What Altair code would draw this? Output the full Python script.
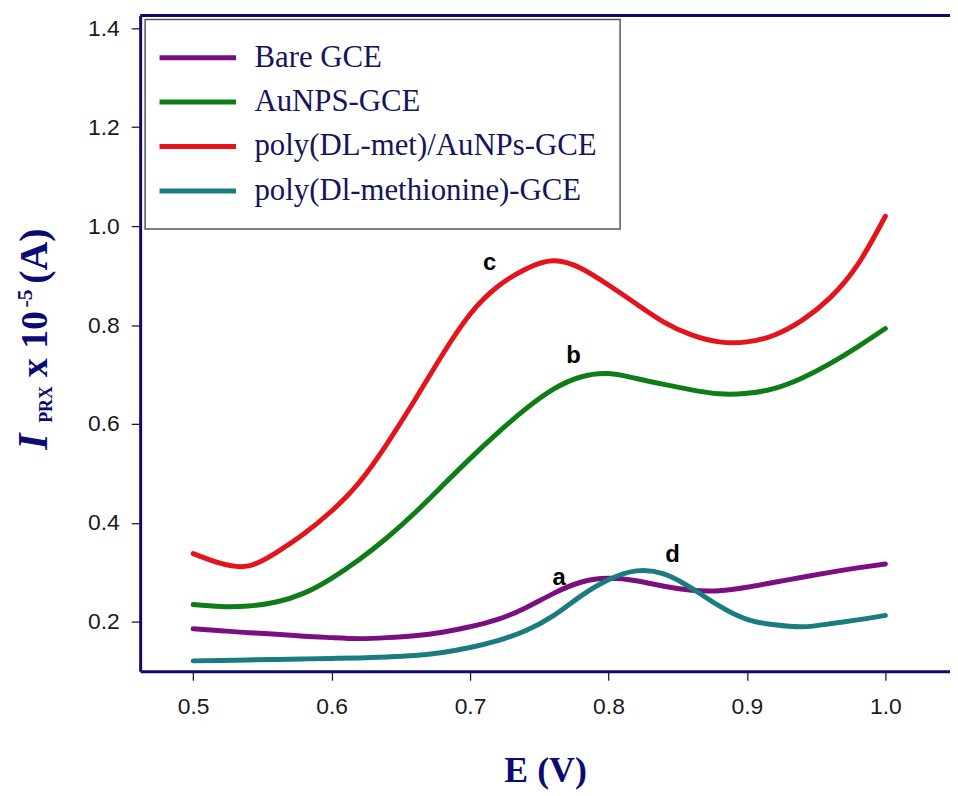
import altair as alt
import pandas as pd

# ---- data ----
E = [0.50, 0.52, 0.54, 0.56, 0.58, 0.60, 0.62, 0.64, 0.66, 0.68, 0.70, 0.72, 0.74,
     0.76, 0.78, 0.80, 0.82, 0.84, 0.86, 0.88, 0.90, 0.92, 0.94, 0.96, 0.98, 1.00]
bare = [0.186, 0.182, 0.178, 0.175, 0.171, 0.168, 0.166, 0.168, 0.172, 0.179, 0.190, 0.205, 0.228,
        0.257, 0.280, 0.288, 0.283, 0.272, 0.264, 0.263, 0.270, 0.280, 0.290, 0.300, 0.309, 0.317]
aunps = [0.235, 0.231, 0.232, 0.240, 0.258, 0.288, 0.326, 0.370, 0.420, 0.475, 0.530, 0.582, 0.630,
         0.670, 0.695, 0.702, 0.692, 0.680, 0.669, 0.661, 0.662, 0.672, 0.693, 0.722, 0.756, 0.793]
poly_au = [0.338, 0.318, 0.313, 0.340, 0.378, 0.424, 0.482, 0.560, 0.648, 0.740, 0.822, 0.878, 0.913,
           0.930, 0.915, 0.881, 0.843, 0.806, 0.780, 0.766, 0.766, 0.780, 0.810, 0.855, 0.922, 1.020]
poly_met = [0.121, 0.122, 0.123, 0.124, 0.125, 0.126, 0.127, 0.129, 0.132, 0.138, 0.148, 0.162, 0.182,
            0.212, 0.252, 0.285, 0.303, 0.297, 0.268, 0.232, 0.205, 0.194, 0.190, 0.196, 0.204, 0.213]

names = ["Bare GCE", "AuNPS-GCE", "poly(DL-met)/AuNPs-GCE", "poly(Dl-methionine)-GCE"]
colors = ["#7a0f7f", "#0f7d17", "#e3141b", "#1b7c80"]

letters = ["a", "b", "c", "d"]
letter_E = [0.7644, 0.7747, 0.7141, 0.8462]
letter_I = [0.288, 0.738, 0.9245, 0.334]

x_ticks = [0.5, 0.6, 0.7, 0.8, 0.9, 1.0]
y_ticks = [0.2, 0.4, 0.6, 0.8, 1.0, 1.2, 1.4]

rows = []
for name, vals in zip(names, [bare, aunps, poly_au, poly_met]):
    for e, v in zip(E, vals):
        rows.append({"E": e, "I": v, "series": name})
df = pd.DataFrame(rows)
lab = pd.DataFrame({"t": letters, "E": letter_E, "I": letter_I})

W, H = 815, 660
NAVY = "#0b0b73"
SERIF = "Liberation Serif"
SANS = "Liberation Sans"

xscale = alt.Scale(domain=[0.4617, 1.0467], nice=False, zero=False)
yscale = alt.Scale(domain=[0.1, 1.426], nice=False, zero=False)

lines = alt.Chart(df).mark_line(strokeWidth=5, strokeCap="round", interpolate="natural").encode(
    x=alt.X("E:Q", scale=xscale,
            axis=alt.Axis(values=x_ticks, format=".1f", title="E (V)", titleFont=SERIF,
                          titleFontWeight="bold", titleFontSize=36, titleColor=NAVY,
                          titlePadding=36, labelPadding=15)),
    y=alt.Y("I:Q", scale=yscale,
            axis=alt.Axis(values=y_ticks, format=".1f", title=None, labelPadding=12)),
    color=alt.Color("series:N", scale=alt.Scale(domain=names, range=colors),
                    legend=alt.Legend(title=None, orient="none", legendX=5, legendY=4,
                                      direction="vertical", symbolType="M-2.4,0H5.3",
                                      symbolSize=400, symbolStrokeWidth=5,
                                      labelOffset=56, labelFont=SERIF, labelFontSize=31,
                                      labelColor="#15155a", labelLimit=1000,
                                      padding=23, rowPadding=12.7,
                                      fillColor="white", strokeColor="#555555")),
)

letter_marks = alt.Chart(lab).mark_text(font=SANS, fontWeight="bold", fontSize=24,
                                        color="black", baseline="middle").encode(
    x=alt.X("E:Q", scale=xscale), y=alt.Y("I:Q", scale=yscale), text="t:N")

top_rule = alt.Chart(pd.DataFrame({"k": [0]})).mark_rule(color=NAVY, strokeWidth=3).encode(
    x=alt.value(0), x2=alt.value(W + 10), y=alt.value(0))


def piece(txt, x, y, size, style="normal"):
    return alt.Chart(pd.DataFrame({"t": [txt]})).mark_text(
        font=SERIF, fontWeight="bold", fontStyle=style, fontSize=size, color=NAVY,
        angle=270, align="left", baseline="alphabetic").encode(
        text="t:N", x=alt.value(x), y=alt.value(y))


ytitle = [
    piece("I", -94, 437, 42, "italic"),
    piece("PRX", -89, 410, 18),
    piece("x 10", -94, 364, 38),
    piece("-5", -109, 294, 22),
    piece("(A)", -94, 270, 40),
]

chart = alt.layer(lines, letter_marks, top_rule, *ytitle).properties(
    width=W, height=H,
    autosize=alt.AutoSizeParams(type="none"),
    padding={"left": 133, "top": 5, "right": 0, "bottom": 120},
).configure_view(stroke=None).configure_axis(
    grid=False, domainColor=NAVY, domainWidth=3, tickColor="#222222", tickWidth=1.3,
    tickSize=9, labelFont=SANS, labelFontSize=23, labelColor="#1a1a1a"
).configure_legend(strokeWidth=1.5)

chart.save("out.html", embed_options={"renderer": "svg", "actions": False})
